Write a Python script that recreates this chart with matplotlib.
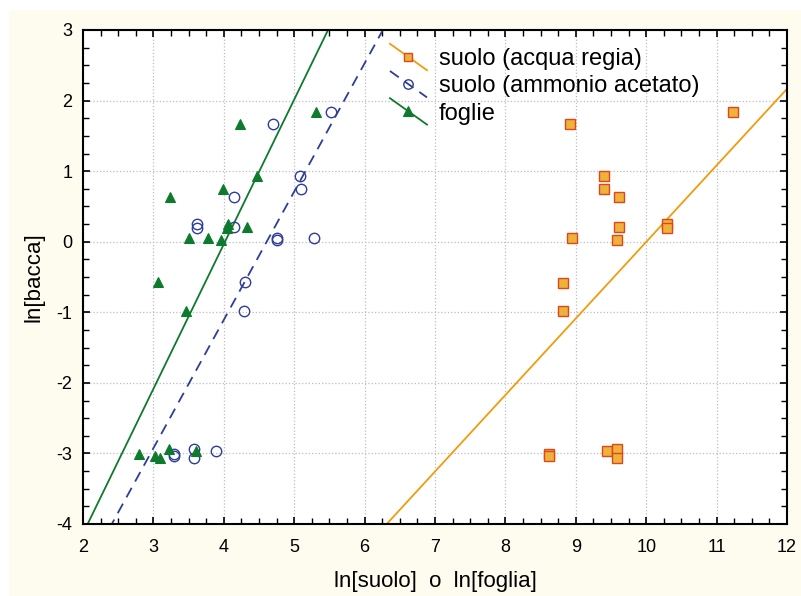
import numpy as np
import matplotlib
matplotlib.use('Agg')
import matplotlib.pyplot as plt
from matplotlib.lines import Line2D
from matplotlib.legend_handler import HandlerLine2D
from matplotlib.patches import Rectangle
from matplotlib.ticker import MultipleLocator

plt.rcParams['font.family'] = ['Liberation Sans', 'DejaVu Sans']
plt.rcParams['axes.unicode_minus'] = False

# suolo (acqua regia)
ar_x = [8.92, 9.40, 9.40, 9.61, 9.61, 9.59, 8.94, 8.82, 8.82, 10.30, 10.30, 11.24,
        8.62, 8.62, 9.44, 9.59, 9.59]
ar_y = [1.67, 0.93, 0.74, 0.64, 0.21, 0.03, 0.05, -0.58, -0.98, 0.25, 0.19, 1.84,
        -3.01, -3.04, -2.96, -2.94, -3.06]

# suolo (ammonio acetato)
am_x = [5.52, 4.70, 5.08, 5.09, 4.15, 3.62, 3.62, 4.15, 4.76, 4.76, 5.28, 4.30,
        4.29, 3.29, 3.29, 3.58, 3.58, 3.89]
am_y = [1.84, 1.67, 0.93, 0.74, 0.64, 0.25, 0.19, 0.21, 0.05, 0.03, 0.05, -0.57,
        -0.98, -3.01, -3.04, -2.94, -3.07, -2.96]

# foglie
fo_x = [5.31, 4.23, 4.47, 3.99, 3.24, 4.06, 4.04, 4.33, 3.51, 3.77, 3.96, 3.07,
        3.46, 2.79, 3.02, 3.09, 3.22, 3.60]
fo_y = [1.84, 1.67, 0.93, 0.74, 0.64, 0.25, 0.19, 0.21, 0.05, 0.05, 0.03, -0.57,
        -0.98, -3.01, -3.04, -3.07, -2.94, -2.97]

# fitted lines (acqua regia, ammonio acetato, foglie)
fit_slope = [1.0845, 1.818, 2.05]
fit_intercept = [-10.848, -8.38, -8.235]

labels = ['suolo (acqua regia)', 'suolo (ammonio acetato)', 'foglie']


class DiagHandler(HandlerLine2D):
    # legend key drawn as a descending diagonal line with marker in the middle
    def create_artists(self, legend, orig_handle, xdescent, ydescent,
                       width, height, fontsize, trans):
        x0, x1 = -xdescent, -xdescent + width
        y0, y1 = -ydescent + height * 1.3, -ydescent - height * 0.3
        ln = Line2D([x0, x1], [y0, y1])
        self.update_prop(ln, orig_handle, legend)
        ln.set_marker('None')
        ln.set_transform(trans)
        mk = Line2D([(x0 + x1) / 2], [(y0 + y1) / 2])
        self.update_prop(mk, orig_handle, legend)
        mk.set_linestyle('None')
        mk.set_markersize(orig_handle.get_markersize() * legend.markerscale)
        mk.set_transform(trans)
        return [ln, mk]


fig = plt.figure(figsize=(8.01, 5.96), dpi=100, facecolor='white')
fig.patches.append(Rectangle((9 / 801, 0), 1, 1 - 10 / 596, transform=fig.transFigure,
                             facecolor='#FEFBEF', edgecolor='none', zorder=-10))
ax = fig.add_axes([83 / 801, 72 / 596, 704 / 801, 494 / 596])
ax.set_facecolor('white')

xs = np.array([2, 12])
orange = '#F29B0E'
navy = '#2E3D9A'
green = '#0E7A2E'

ax.plot(xs, fit_slope[0] * xs + fit_intercept[0], color=orange, lw=1.3, zorder=2)
ax.plot(xs, fit_slope[1] * xs + fit_intercept[1], color=navy, lw=1.3,
        ls=(0, (6, 4)), zorder=2)
ax.plot(xs, fit_slope[2] * xs + fit_intercept[2], color=green, lw=1.3, zorder=2)

sq = dict(marker='s', ms=7, mfc='#ECB23A', mec='#E0461E', mew=1.0, ls='none')
ci = dict(marker='o', ms=7.5, mfc='none', mec=navy, mew=1.0, ls='none')
tr = dict(marker='^', ms=7.5, mfc=green, mec=green, mew=0.8, ls='none')

ax.plot(ar_x, ar_y, zorder=3, **sq)
ax.plot(am_x, am_y, zorder=3, **ci)
ax.plot(fo_x, fo_y, zorder=4, **tr)

ax.set_xlim(2, 12)
ax.set_ylim(-4, 3)
ax.xaxis.set_major_locator(MultipleLocator(1))
ax.xaxis.set_minor_locator(MultipleLocator(0.25))
ax.yaxis.set_major_locator(MultipleLocator(1))
ax.yaxis.set_minor_locator(MultipleLocator(0.25))
ax.tick_params(which='both', direction='in', top=True, right=True, color='black')
ax.tick_params(which='major', length=5, width=1.2, labelsize=13)
ax.tick_params(which='minor', length=4, width=1.0)
ax.tick_params(axis='x', which='major', pad=10.5)
ax.tick_params(axis='y', which='major', pad=7.5)
for s in ax.spines.values():
    s.set_linewidth(1.5)
ax.grid(True, which='major', ls=':', color='#BDBDBD', lw=0.9)
ax.set_axisbelow(True)

ax.set_xlabel('ln[suolo]  o  ln[foglia]', fontsize=16, labelpad=11)
ax.set_ylabel('ln[bacca]', fontsize=16, labelpad=9)

h1 = Line2D([], [], color=orange, lw=1.3, **{k: v for k, v in sq.items() if k != 'ls'})
h2 = Line2D([], [], color=navy, lw=1.3, ls=(0, (6, 4)),
            **{k: v for k, v in ci.items() if k != 'ls'})
h3 = Line2D([], [], color=green, lw=1.3, **{k: v for k, v in tr.items() if k != 'ls'})
ax.legend([h1, h2, h3], labels, loc='upper left', bbox_to_anchor=(0.436, 0.963),
          frameon=False, fontsize=17, handlelength=1.57, handletextpad=0.5,
          labelspacing=0.22, borderpad=0, borderaxespad=0, markerscale=0.9,
          handler_map={Line2D: DiagHandler()})

fig.savefig('out.png', dpi=100, facecolor=fig.get_facecolor())
